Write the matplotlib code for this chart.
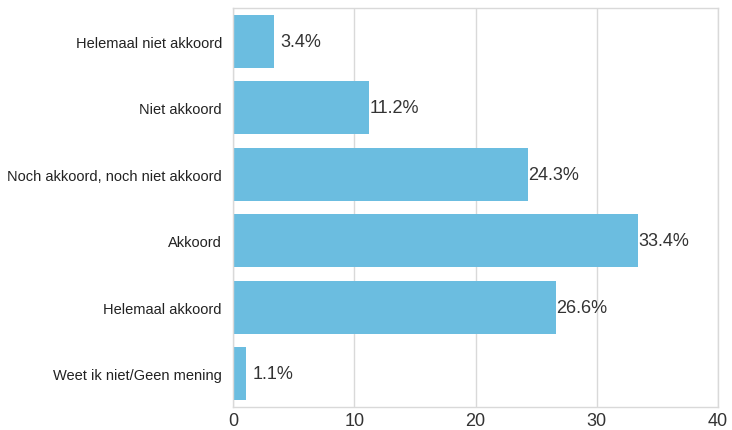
import matplotlib
matplotlib.use("Agg")
import matplotlib.pyplot as plt

categories = ["Helemaal niet akkoord", "Niet akkoord", "Noch akkoord, noch niet akkoord",
              "Akkoord", "Helemaal akkoord", "Weet ik niet/Geen mening"]
values = [3.4, 11.2, 24.3, 33.4, 26.6, 1.1]
xticks = [0, 10, 20, 30, 40]

plt.rcParams['font.family'] = ['Liberation Sans', 'DejaVu Sans']

fig = plt.figure(figsize=(7.32, 4.31), dpi=100)
ax = fig.add_axes([233/732, 1-408/431, (718-233)/732, (408-9)/431])

ypos = list(range(len(categories)))
ax.barh(ypos, values, height=0.8, color="#6bbde0", zorder=2)
ax.set_ylim(len(categories)-0.5, -0.5)
ax.set_xlim(0, 40)
ax.set_xticks(xticks)
ax.set_xticklabels([str(t) for t in xticks], fontsize=13, color="#333333")
ax.set_yticks(ypos)
ax.set_yticklabels(categories, fontsize=10.5, color="#222222")
ax.tick_params(axis='y', length=0, pad=8)
ax.tick_params(axis='x', length=0, pad=3.5)
ax.grid(axis='x', color="#d9d9d9", linewidth=1, zorder=0)
for s in ax.spines.values():
    s.set_color("#d9d9d9")
    s.set_linewidth(1)

for y, v in zip(ypos, values):
    off = 4.5 if v < 5 else 0.5
    ax.annotate(f"{v}%", xy=(v, y), xytext=(off, 0), textcoords="offset points",
                va="center", ha="left", fontsize=13, color="#333333")

fig.savefig("out.png", dpi=100)
